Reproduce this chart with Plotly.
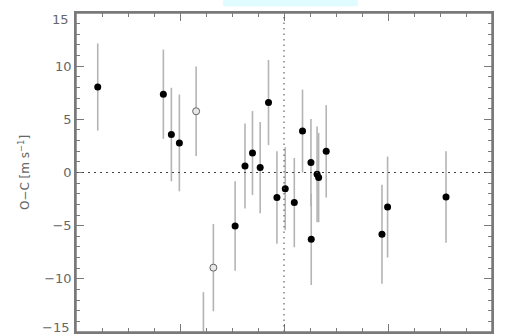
import plotly.graph_objects as go

# filled points
x_filled = [-1.791, -1.160, -1.083, -1.006, -0.775, -0.470, -0.375, -0.303, -0.229,
            -0.149, -0.068, 0.012, 0.099, 0.178, 0.259, 0.262, 0.318, 0.333,
            0.406, 0.942, 0.996, 1.558]
y_filled = [8.04, 7.36, 3.57, 2.78, -15.6, -5.03, 0.61, 1.83, 0.46,
            6.58, -2.36, -1.52, -2.83, 3.90, 0.93, -6.28, -0.17, -0.48,
            1.99, -5.81, -3.25, -2.30]
e_filled = [4.1, 4.2, 4.4, 4.55, 4.35, 4.2, 4.0, 3.95, 4.3,
            4.0, 4.35, 3.9, 4.2, 3.9, 4.1, 4.3, 4.5, 4.2,
            4.35, 4.65, 4.75, 4.3]

# open points
x_open = [-0.845, -0.679]
y_open = [5.76, -8.95]
e_open = [4.2, 4.1]

y_ticks = [-10, -5, 0, 5, 10]
y_end_ticks = [-15, 15]
y_title = "O−C [m s<sup>−1</sup>]"

err_style = dict(type="data", visible=True, thickness=1.6, width=0, color="#b4b4b4")
FRAME = "#7a7a7a"
LABEL_FONT = dict(family="DejaVu Sans", size=13, color="#666666")

fig = go.Figure()
fig.add_trace(go.Scatter(
    x=x_filled, y=y_filled, mode="markers",
    error_y=dict(array=e_filled, **err_style),
    marker=dict(size=7, color="black"),
    showlegend=False,
))
fig.add_trace(go.Scatter(
    x=x_open, y=y_open, mode="markers",
    error_y=dict(array=e_open, **err_style),
    marker=dict(size=7, color="#e8e8e8", line=dict(color="#666666", width=1)),
    showlegend=False,
))

# reference lines
fig.add_shape(type="line", xref="paper", yref="y", x0=0, x1=1, y0=0, y1=0,
              line=dict(color="#444444", width=1, dash="2px,4px"))
fig.add_shape(type="line", xref="x", yref="paper", x0=0, x1=0, y0=0, y1=1,
              line=dict(color="#444444", width=1, dash="1.5px,4px"))
# frame
fig.add_shape(type="rect", xref="paper", yref="paper", x0=0, x1=1, y0=0, y1=1,
              line=dict(color=FRAME, width=1.5), fillcolor="rgba(0,0,0,0)", layer="above")
# light cyan strip at top
fig.add_shape(type="rect", xref="paper", yref="paper", x0=0.3536, x1=0.678,
              y0=1.021, y1=1.045, fillcolor="#e0fcff", line=dict(width=0), layer="below")

# end tick labels (drawn inward like the original)
for v, shift in zip(y_end_ticks, [5, -6]):
    fig.add_annotation(x=0, xref="paper", xanchor="right", xshift=-5, y=v, yref="y",
                       yshift=shift, text=str(v).replace("-", "−"), showarrow=False,
                       font=LABEL_FONT)

axis_common = dict(showline=True, linecolor=FRAME, linewidth=1.5, mirror="ticks",
                   ticks="inside", ticklen=8, tickcolor=FRAME, tickwidth=1,
                   showgrid=False, zeroline=False)

fig.update_xaxes(range=[-2, 2], dtick=1, tick0=0, showticklabels=False,
                 minor=dict(dtick=0.25, ticks="inside", ticklen=4, tickcolor=FRAME, tickwidth=1),
                 **axis_common)
fig.update_yaxes(range=[-15, 15], tickvals=y_ticks,
                 ticktext=[str(v).replace("-", "−") for v in y_ticks],
                 minor=dict(dtick=1, ticks="inside", ticklen=4, tickcolor=FRAME, tickwidth=1),
                 tickfont=LABEL_FONT,
                 title=dict(text=y_title, font=dict(family="DejaVu Sans", size=12, color="#666666"), standoff=12),
                 **axis_common)

fig.update_layout(
    width=509, height=335,
    margin=dict(l=76, r=17, t=13, b=3),
    plot_bgcolor="white", paper_bgcolor="white",
)

fig.write_html("out.html")
